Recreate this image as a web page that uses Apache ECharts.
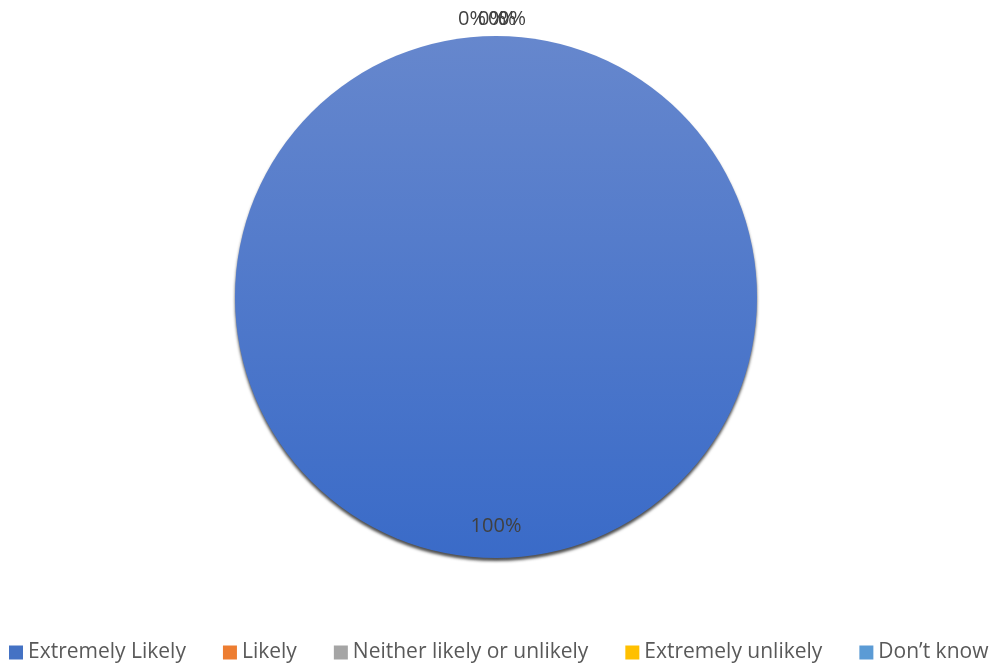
<!DOCTYPE html>
<html><head><meta charset="utf-8">
<script src="https://cdn.jsdelivr.net/npm/echarts@6/dist/echarts.min.js"></script>
<style>html,body{margin:0;padding:0;background:#fff}#c{width:998px;height:667px}</style>
</head><body><div id="c"></div>
<script>
const categories = ["Extremely Likely", "Likely", "Neither likely or unlikely", "Extremely unlikely", "Don\u2019t know"];
const values = [100, 0, 0, 0, 0];
const colors = ["#4472C4", "#ED7D31", "#A5A5A5", "#FFC000", "#5B9BD5"];

const chart = echarts.init(document.getElementById('c'));
const data = categories.map((n, i) => ({
  name: n, value: values[i],
  itemStyle: i === 0 ? {
    color: new echarts.graphic.LinearGradient(0, 0, 0, 1, [
      {offset: 0, color: '#6687CD'}, {offset: 1, color: '#3A6BC8'}])
  } : {color: colors[i]},
  label: i === 0 ? {position: 'inside'} : undefined
}));
chart.setOption({
  animation: false,
  color: colors,
  legend: {
    top: 642, left: 9, width: 989, padding: 0, itemWidth: 14, itemHeight: 14, itemGap: 37,
    icon: 'rect',
    textStyle: {fontFamily: 'Open Sans', fontSize: 21, color: '#595959'},
    data: categories.map((n, i) => ({name: n, itemStyle: {color: colors[i]}}))
  },
  series: [{
    type: 'pie',
    center: [496, 297], radius: 261,
    startAngle: 90, clockwise: true,
    avoidLabelOverlap: false,
    stillShowZeroSum: true,
    itemStyle: {shadowColor: 'rgba(60,60,60,0.9)', shadowBlur: 3, shadowOffsetY: 3},
    label: {
      show: true, position: 'outside', formatter: '{d}%',
      fontFamily: 'Open Sans', fontSize: 20, color: '#404040', distanceToLabelLine: 0
    },
    labelLine: {show: false, length: 4, length2: 0},
    labelLayout: function (p) {
      if (p.dataIndex === 0) return {dy: 96};
      return {dx: [0, -38, -18, -8, 2][p.dataIndex], dy: -13};
    },
    data: data
  }]
});
</script></body></html>
